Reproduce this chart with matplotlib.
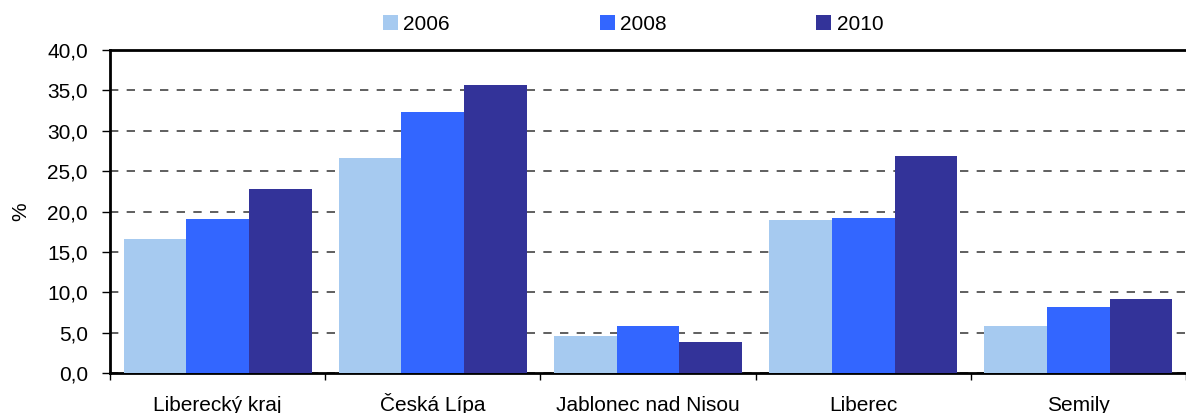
import numpy as np
import matplotlib.pyplot as plt
from matplotlib.ticker import FixedLocator, FuncFormatter

plt.rcParams['font.family'] = ['Liberation Sans', 'DejaVu Sans']

# data
regions = ["Liberecký kraj", "Česká Lípa", "Jablonec nad Nisou", "Liberec", "Semily"]
years = ["2006", "2008", "2010"]
share_2006 = [16.6, 26.6, 4.6, 19.0, 5.85]
share_2008 = [19.05, 32.3, 5.85, 19.2, 8.2]
share_2010 = [22.8, 35.7, 3.9, 26.9, 9.2]
colors = ["#A6CAF0", "#3366FF", "#333399"]

FS = 15

fig = plt.figure(figsize=(11.86, 4.13), dpi=100)
ax = fig.add_axes([110 / 1186, 1 - 373.3 / 413, 1076 / 1186, 323.3 / 413])

x = np.arange(len(regions))
w = 0.291
for i, (vals, c, lab) in enumerate(zip([share_2006, share_2008, share_2010], colors, years)):
    ax.bar(x + (i - 1) * w, vals, width=w, color=c, label=lab, zorder=3)

ax.set_xlim(-0.5, len(regions) - 0.5)
ax.set_ylim(0, 40)
ax.yaxis.set_major_locator(FixedLocator(np.arange(0, 40.1, 5)))
ax.yaxis.set_major_formatter(FuncFormatter(lambda v, p: f"{v:.1f}".replace(".", ",")))
ax.grid(axis="y", color="#444444", linestyle=(0, (5, 5)), linewidth=1.2, zorder=1)

# category boundaries as x ticks, labels in the middle
ax.set_xticks(np.arange(-0.5, len(regions), 1))
ax.set_xticklabels([])
ax.set_xticks(x, minor=True)
ax.set_xticklabels(regions, minor=True, va="baseline")
ax.tick_params(axis="x", which="minor", length=0, pad=27, labelsize=FS)
ax.tick_params(axis="x", which="major", length=5, width=1, direction="out")
ax.tick_params(axis="y", length=6, width=1, labelsize=FS, pad=10)

for side in ["left", "top", "bottom"]:
    ax.spines[side].set_linewidth(2)
ax.spines["right"].set_visible(False)

ax.set_ylabel("%", fontsize=FS, labelpad=12)

ax.legend(loc="center", bbox_to_anchor=(0.5 - 15 / 1076, 1 + 26 / 323.3), ncol=3, frameon=False,
          fontsize=FS, handlelength=0.72, handleheight=0.72, handletextpad=0.25,
          columnspacing=7.2, borderaxespad=0)

fig.savefig("out.png", dpi=100)
